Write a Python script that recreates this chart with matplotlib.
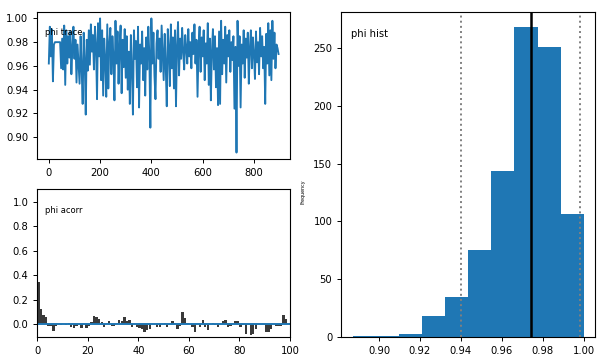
import numpy as np
import matplotlib
matplotlib.use("Agg")
import matplotlib.pyplot as plt

# ---- data ----
trace_step = 4
phi_trace = [
    0.962, 0.993, 0.968, 0.991, 0.947, 0.978, 0.980, 0.980, 0.980, 0.980,
    0.980, 0.980, 0.958, 0.983, 0.957, 0.994, 0.944, 0.990, 0.962, 0.985,
    0.967, 0.989, 0.953, 0.975, 0.993, 0.966, 0.982, 0.946, 0.978, 0.962,
    0.945, 0.985, 0.958, 0.928, 0.988, 0.965, 0.919, 0.982, 0.956, 0.990,
    0.961, 0.995, 0.972, 0.986, 0.957, 0.993, 0.978, 0.932, 0.996, 0.968,
    1.000, 0.948, 0.990, 0.935, 0.983, 0.965, 0.934, 0.995, 0.941, 0.979,
    0.992, 0.953, 0.985, 0.968, 0.931, 0.998, 0.962, 0.989, 0.945, 0.976,
    0.994, 0.937, 0.982, 0.959, 0.991, 0.950, 0.985, 0.940, 0.972, 0.928,
    0.986, 0.958, 0.919, 0.990, 0.966, 0.981, 0.942, 0.993, 0.925, 0.978,
    0.962, 0.989, 0.948, 0.975, 0.935, 0.984, 0.957, 0.993, 0.970, 0.908,
    1.000, 0.962, 0.988, 0.952, 0.932, 0.979, 0.990, 0.966, 0.983, 0.955,
    0.994, 0.972, 0.948, 0.987, 0.960, 0.926, 0.991, 0.975, 0.943, 0.995,
    0.958, 0.984, 0.941, 0.990, 0.926, 0.977, 0.997, 0.952, 0.983, 0.966,
    0.992, 0.972, 0.957, 0.986, 0.975, 0.962, 0.991, 0.968, 0.980, 0.958,
    0.988, 0.970, 0.995, 0.962, 0.982, 0.934, 0.976, 0.993, 0.955, 0.984,
    0.968, 0.990, 0.948, 0.979, 0.962, 0.996, 0.944, 0.983, 0.931, 0.972,
    0.991, 0.957, 0.985, 0.942, 0.975, 0.927, 0.989, 0.928, 0.998, 0.953,
    0.982, 0.962, 0.993, 0.946, 0.986, 0.968, 0.990, 0.955, 0.980, 0.965,
    0.985, 0.924, 0.976, 0.887, 0.998, 0.960, 0.985, 0.925, 0.978, 0.962,
    0.990, 0.950, 0.983, 0.967, 0.988, 0.945, 0.975, 0.990, 0.958, 0.984,
    0.970, 0.949, 0.989, 0.963, 0.980, 0.953, 0.992, 0.968, 0.985, 0.958,
    0.976, 0.928, 0.987, 0.962, 0.996, 0.952, 0.990, 0.948, 0.998, 0.966,
    0.988, 0.958, 0.978, 0.975, 0.970,
]

phi_acorr = [
    0.345, 0.125, 0.075, 0.058, -0.012, -0.010, -0.052, -0.015, 0.004, -0.003,
    0.003, -0.008, 0.015, -0.022, -0.028, -0.012, 0.004, -0.030, 0.005, -0.030,
    -0.012, 0.018, 0.065, 0.060, 0.043, 0.022, -0.025, 0.004, 0.025, -0.010,
    -0.010, 0.005, 0.035, 0.025, 0.058, 0.025, 0.035, -0.020, 0.003, -0.018,
    -0.030, -0.040, -0.060, -0.045, -0.035, 0.003, 0.002, -0.020, -0.020, 0.004,
    0.015, -0.020, 0.003, 0.025, 0.010, -0.040, -0.010, 0.100, 0.055, 0.015,
    0.004, -0.025, -0.058, 0.003, -0.020, 0.035, -0.020, -0.048, 0.004, 0.015,
    -0.004, -0.025, 0.004, 0.025, 0.040, -0.020, -0.015, 0.004, 0.025, 0.030,
    -0.025, -0.005, -0.075, 0.003, -0.085, -0.075, -0.035, 0.003, 0.005, 0.003,
    -0.060, -0.060, -0.035, 0.002, -0.015, -0.010, -0.010, 0.075, 0.045, 0.002,
]

hist_counts = [1, 1, 3, 18, 35, 75, 144, 268, 251, 106]
hist_range = (0.8872, 1.0001)
phi_median = 0.9742
phi_q_low = 0.9399
phi_q_high = 0.9982

# ---- figure ----
fig = plt.figure(figsize=(6.05, 3.61), dpi=100)
tick_fs = 7.2

ax1 = fig.add_axes([0.0617, 0.5587, 0.4177, 0.4089])
ax2 = fig.add_axes([0.0617, 0.0673, 0.4177, 0.4083])
ax3 = fig.add_axes([0.5641, 0.0665, 0.4198, 0.9011])

# trace
x_tr = np.arange(len(phi_trace)) * trace_step
ax1.plot(x_tr, phi_trace, color="C0", lw=1.35)
ax1.set_xticks([0, 200, 400, 600, 800])
ax1.set_yticks([0.90, 0.92, 0.94, 0.96, 0.98, 1.00])
ax1.text(0.03, 0.845, "phi trace", transform=ax1.transAxes, fontsize=6, va="baseline")

# autocorrelation
lags = np.arange(len(phi_acorr))
ax2.bar(lags, phi_acorr, width=0.9, align="edge", color="#3a3a3a")
ax2.axhline(0, color="C0", lw=1.4)
ax2.set_xlim(0, 100)
ax2.set_ylim(-0.1, 1.1)
ax2.set_yticks([0.0, 0.2, 0.4, 0.6, 0.8, 1.0])
ax2.text(0.03, 0.837, "phi acorr", transform=ax2.transAxes, fontsize=6, va="baseline")

# histogram
edges = np.linspace(hist_range[0], hist_range[1], len(hist_counts) + 1)
centers = 0.5 * (edges[:-1] + edges[1:])
ax3.hist(centers, bins=edges, weights=hist_counts, color="C0")
ax3.axvline(phi_median, color="black", lw=1.8)
ax3.axvline(phi_q_low, color="grey", lw=1.4, ls=":")
ax3.axvline(phi_q_high, color="grey", lw=1.4, ls=":")
ax3.set_xticks([0.90, 0.92, 0.94, 0.96, 0.98, 1.00])
ax3.set_yticks([0, 50, 100, 150, 200, 250])
ax3.set_ylabel("Frequency", fontsize=3.4)
ax3.yaxis.set_label_coords(-0.139, 0.447)
ax3.text(0.037, 0.921, "phi hist", transform=ax3.transAxes, fontsize=7.2, va="baseline")

for ax in (ax1, ax2, ax3):
    ax.tick_params(labelsize=tick_fs, length=3, width=0.7)
    for s in ax.spines.values():
        s.set_linewidth(0.8)

fig.savefig("out.png", dpi=100)
